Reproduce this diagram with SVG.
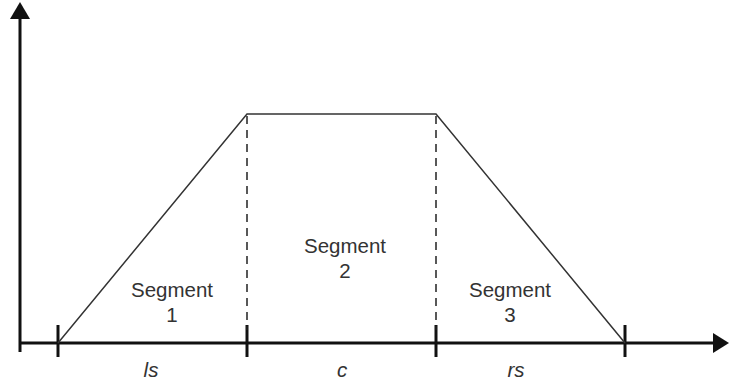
<svg xmlns="http://www.w3.org/2000/svg" width="729" height="387" viewBox="0 0 729 387">
<style>
.axis{stroke:#111;stroke-width:3;fill:none}
.tick{stroke:#111;stroke-width:3}
.prof{stroke:#333;stroke-width:1.5;fill:none}
.dash{stroke:#222;stroke-width:1.5;stroke-dasharray:8,6;fill:none}
text{font-family:"Liberation Sans",Arial,sans-serif;font-size:20.5px;fill:#333;text-anchor:middle}
.it{font-style:italic}
</style>
<rect width="729" height="387" fill="#fff"/>
<g id="connectors">
<line class="axis" x1="20" y1="352" x2="20" y2="16"/>
<polygon points="20,2 10,19 30,19" fill="#111"/>
<line class="axis" x1="20" y1="343" x2="716" y2="343"/>
<polygon points="729,343 713,333 713,353" fill="#111"/>
<line class="tick" x1="58" y1="325" x2="58" y2="357"/>
<line class="tick" x1="247" y1="325" x2="247" y2="357"/>
<line class="tick" x1="436" y1="325" x2="436" y2="357"/>
<line class="tick" x1="625" y1="325" x2="625" y2="357"/>
<polyline class="prof" points="58,343 247,114 436,114 625,343"/>
<line class="dash" x1="247" y1="116" x2="247" y2="330"/>
<line class="dash" x1="436" y1="116" x2="436" y2="330"/>
</g>
<g id="seg1"><text x="172" y="297">Segment</text><text x="172" y="322">1</text></g>
<g id="seg2"><text x="345" y="253">Segment</text><text x="345" y="278">2</text></g>
<g id="seg3"><text x="510" y="297">Segment</text><text x="510" y="322">3</text></g>
<g id="ls"><text class="it" x="151" y="377">ls</text></g>
<g id="c"><text class="it" x="342" y="377">c</text></g>
<g id="rs"><text class="it" x="516" y="377">rs</text></g>
</svg>
